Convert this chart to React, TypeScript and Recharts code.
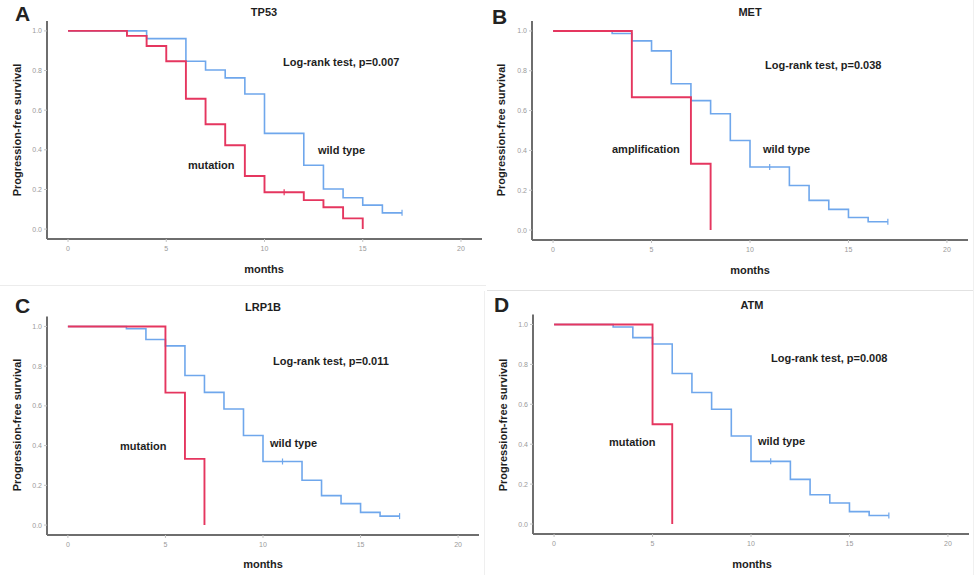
import React from 'react';
import { LineChart, Line, XAxis, YAxis } from 'recharts';

// months of each step and the survival fraction from that month on
const tp53MutMonths = [0, 3, 4, 5, 6, 7, 8, 9, 10, 11, 12, 13, 14, 15];
const tp53MutSurv = [1, 0.975, 0.924, 0.847, 0.658, 0.529, 0.423, 0.268, 0.186, 0.186, 0.146, 0.11, 0.054, 0];
const tp53MutCensor = [11];
const tp53WtMonths = [0, 4, 6, 7, 8, 9, 10, 12, 13, 14, 15, 16, 17];
const tp53WtSurv = [1, 0.961, 0.847, 0.803, 0.763, 0.682, 0.483, 0.322, 0.202, 0.158, 0.121, 0.082, 0.082];
const tp53WtCensor = [17];

const metAmpMonths = [0, 4, 7, 8];
const metAmpSurv = [1, 0.667, 0.333, 0];
const metWtMonths = [0, 3, 4, 5, 6, 7, 8, 9, 10, 11, 12, 13, 14, 15, 16, 17];
const metWtSurv = [1, 0.987, 0.95, 0.9, 0.735, 0.65, 0.584, 0.45, 0.317, 0.317, 0.224, 0.149, 0.104, 0.063, 0.042, 0.042];
const metWtCensor = [11, 17];

const lrpMutMonths = [0, 5, 6, 7];
const lrpMutSurv = [1, 0.667, 0.333, 0];
const lrpWtMonths = [0, 3, 4, 5, 6, 7, 8, 9, 10, 11, 12, 13, 14, 15, 16, 17];
const lrpWtSurv = [1, 0.988, 0.934, 0.902, 0.753, 0.668, 0.584, 0.451, 0.32, 0.32, 0.226, 0.148, 0.108, 0.064, 0.045, 0.045];
const lrpWtCensor = [11, 17];

const atmMutMonths = [0, 5, 6];
const atmMutSurv = [1, 0.5, 0];
const atmWtMonths = [0, 3, 4, 5, 6, 7, 8, 9, 10, 11, 12, 13, 14, 15, 16, 17];
const atmWtSurv = [1, 0.987, 0.934, 0.902, 0.754, 0.659, 0.575, 0.441, 0.314, 0.314, 0.224, 0.147, 0.105, 0.062, 0.043, 0.043];
const atmWtCensor = [11, 17];

const xTicks = [0, 5, 10, 15, 20];
const yTicks = [0, 0.2, 0.4, 0.6, 0.8, 1.0];

const RED = '#e5365f';
const BLUE = '#6fa7ec';
const FONT = '"Liberation Sans", Arial, sans-serif';

type Pt = { t: number; s: number; c?: boolean };

function toPoints(months: number[], surv: number[], censor: number[] = []): Pt[] {
  return months.map((t, i) => ({ t, s: surv[i], c: censor.includes(t) }));
}

function censorDot(color: string) {
  return (props: any) => {
    const { cx, cy, payload, index } = props;
    if (!payload?.c) return <g key={`d${index}`} />;
    return <line key={`d${index}`} x1={cx} x2={cx} y1={cy - 3} y2={cy + 3} stroke={color} strokeWidth={1.2} />;
  };
}

interface Note {
  text: string;
  x: number;
  y: number;
}

interface PanelProps {
  left: number;
  top: number;
  plot: { l: number; r: number; t: number; b: number };
  letter: string;
  letterPos: [number, number];
  title: string;
  titleY: number;
  centerX: number;
  monthsY: number;
  ylabel: [number, number];
  red: Pt[];
  blue: Pt[];
  notes: Note[];
}

const W = 490;
const H = 290;
const YW = 36;
const XH = 30;

function Panel(p: PanelProps) {
  const margin = { left: p.plot.l - YW, right: W - p.plot.r, top: p.plot.t, bottom: H - p.plot.b - XH };
  const text: React.CSSProperties = {
    position: 'absolute',
    fontFamily: FONT,
    fontSize: 11,
    fontWeight: 'bold',
    color: '#1e1e1e',
    lineHeight: '11px',
    whiteSpace: 'nowrap',
  };
  return (
    <div style={{ position: 'absolute', left: p.left, top: p.top, width: W, height: H }}>
      <LineChart width={W} height={H} margin={margin}>
        <XAxis
          type="number"
          dataKey="t"
          domain={[-1.07, 21.07]}
          allowDataOverflow
          ticks={xTicks}
          height={XH}
          axisLine={{ stroke: '#6e6e6e', strokeWidth: 2 }}
          tickLine={{ stroke: '#c4c4c4' }}
          tickSize={3}
          tickMargin={4}
          tick={{ fontSize: 7, fill: '#9a9a9a', fontFamily: FONT }}
        />
        <YAxis
          type="number"
          domain={[-0.05, 1.05]}
          allowDataOverflow
          ticks={yTicks}
          width={YW}
          axisLine={{ stroke: '#6e6e6e', strokeWidth: 2 }}
          tickLine={{ stroke: '#c4c4c4' }}
          tickSize={3}
          tickMargin={2}
          tickFormatter={(v: number) => v.toFixed(1)}
          tick={{ fontSize: 7, fill: '#9a9a9a', fontFamily: FONT }}
        />
        <Line
          data={p.blue}
          dataKey="s"
          type="stepAfter"
          stroke={BLUE}
          strokeWidth={1.6}
          dot={censorDot(BLUE)}
          activeDot={false}
          isAnimationActive={false}
        />
        <Line
          data={p.red}
          dataKey="s"
          type="stepAfter"
          stroke={RED}
          strokeWidth={1.9}
          dot={censorDot(RED)}
          activeDot={false}
          isAnimationActive={false}
        />
      </LineChart>
      <div style={{ ...text, fontSize: 21, lineHeight: '21px', left: p.letterPos[0], top: p.letterPos[1], color: '#222' }}>
        {p.letter}
      </div>
      <div style={{ ...text, left: p.centerX, top: p.titleY, transform: 'translateX(-50%)' }}>{p.title}</div>
      <div style={{ ...text, left: p.centerX, top: p.monthsY, transform: 'translateX(-50%)' }}>months</div>
      <div
        style={{
          ...text,
          left: p.ylabel[0],
          top: p.ylabel[1],
          transform: 'translate(-50%, -50%) rotate(-90deg)',
        }}
      >
        Progression-free survival
      </div>
      {p.notes.map((n) => (
        <div key={n.text} style={{ ...text, left: n.x, top: n.y - 5.5 }}>
          {n.text}
        </div>
      ))}
    </div>
  );
}

export default function App() {
  return (
    <div style={{ position: 'absolute', left: 0, top: 0, width: 980, height: 575, background: '#fff', overflow: 'hidden' }}>
      <div style={{ position: 'absolute', left: 0, top: 285, width: 486, height: 1, background: '#ececec' }} />
      <div style={{ position: 'absolute', left: 487, top: 290, width: 486, height: 1, background: '#e2e2e2' }} />
      <div style={{ position: 'absolute', left: 484, top: 291, width: 1, height: 284, background: '#efefef' }} />
      <div style={{ position: 'absolute', left: 973, top: 0, width: 1, height: 575, background: '#f0f0f0' }} />
      <Panel
        left={0}
        top={0}
        plot={{ l: 47, r: 482, t: 21, b: 239 }}
        letter="A"
        letterPos={[15, 3]}
        title="TP53"
        titleY={7}
        centerX={264}
        monthsY={264}
        ylabel={[17, 130]}
        red={toPoints(tp53MutMonths, tp53MutSurv, tp53MutCensor)}
        blue={toPoints(tp53WtMonths, tp53WtSurv, tp53WtCensor)}
        notes={[
          { text: 'Log-rank test, p=0.007', x: 283, y: 62 },
          { text: 'wild type', x: 318, y: 150 },
          { text: 'mutation', x: 188, y: 165 },
        ]}
      />
      <Panel
        left={490}
        top={0}
        plot={{ l: 42, r: 478, t: 21, b: 240 }}
        letter="B"
        letterPos={[2, 6]}
        title="MET"
        titleY={7}
        centerX={260}
        monthsY={265}
        ylabel={[11, 130]}
        red={toPoints(metAmpMonths, metAmpSurv)}
        blue={toPoints(metWtMonths, metWtSurv, metWtCensor)}
        notes={[
          { text: 'Log-rank test, p=0.038', x: 275, y: 65 },
          { text: 'amplification', x: 122, y: 149 },
          { text: 'wild type', x: 273, y: 149 },
        ]}
      />
      <Panel
        left={0}
        top={285}
        plot={{ l: 47, r: 479, t: 31.5, b: 250 }}
        letter="C"
        letterPos={[15, 10]}
        title="LRP1B"
        titleY={17}
        centerX={263}
        monthsY={274}
        ylabel={[17, 140]}
        red={toPoints(lrpMutMonths, lrpMutSurv)}
        blue={toPoints(lrpWtMonths, lrpWtSurv, lrpWtCensor)}
        notes={[
          { text: 'Log-rank test, p=0.011', x: 273, y: 76 },
          { text: 'mutation', x: 120, y: 161 },
          { text: 'wild type', x: 270, y: 158 },
        ]}
      />
      <Panel
        left={490}
        top={285}
        plot={{ l: 43, r: 479, t: 29.5, b: 249 }}
        letter="D"
        letterPos={[4, 9]}
        title="ATM"
        titleY={15}
        centerX={262}
        monthsY={274}
        ylabel={[13, 140]}
        red={toPoints(atmMutMonths, atmMutSurv)}
        blue={toPoints(atmWtMonths, atmWtSurv, atmWtCensor)}
        notes={[
          { text: 'Log-rank test, p=0.008', x: 281, y: 73 },
          { text: 'mutation', x: 119, y: 157 },
          { text: 'wild type', x: 268, y: 156 },
        ]}
      />
    </div>
  );
}
